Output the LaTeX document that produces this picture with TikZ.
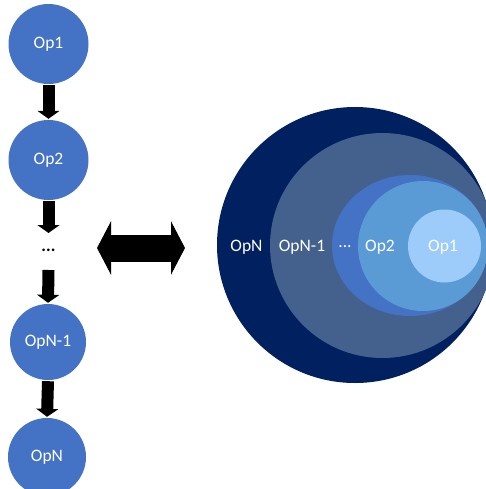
\documentclass[tikz,border=0pt]{standalone}
\usepackage{fontspec}
\setmainfont{Carlito}
\usetikzlibrary{arrows.meta}

\definecolor{opblue}{HTML}{4472C4}
\definecolor{opnavy}{HTML}{002060}
\definecolor{opslate}{HTML}{44618D}
\definecolor{opmid}{HTML}{5B9BD5}
\definecolor{oplight}{HTML}{9DCBFA}

\begin{document}
\begin{tikzpicture}[x=1pt,y=1pt]
			\tikzstyle{every node}+=[inner sep=0pt,text=white,font=\fontsize{17.5}{21}\selectfont]
			\tikzstyle{opnode}=[circle,fill=opblue]
			\tikzstyle{down}=[line width=12pt,-{Triangle[length=8pt,width=22pt]}]
			\useasboundingbox (0,0) rectangle (486,-489);
			\clip (0,0) rectangle (486,-489);
			% chain of operations
			\node [opnode,minimum size=80pt] (op1) at (48.5,-44) {Op1};
			\node [opnode,minimum size=80pt] (op2) at (48.5,-160) {Op2};
			\node [text=black,font=\fontsize{17.5}{21}\bfseries] (dots) at (48.5,-250) {...};
			\node [opnode,minimum size=76pt] (opn1) at (48,-342) {OpN-1};
			\node [opnode,minimum size=78pt] (opn) at (47,-457) {OpN};
			\draw [down] ([yshift=-1pt]op1.south) -- ([yshift=1pt]op2.north);
			\draw [down] ([yshift=-1pt]op2.south) -- (48.5,-233) coordinate (d1);
			\draw [down] (48.5,-270) coordinate (d2) -- ([yshift=1pt]opn1.north);
			\draw [down] ([yshift=-1pt]opn1.south) -- ([yshift=1pt]opn.north);
			% equivalence arrow
			\coordinate (la) at (97,-248);
			\coordinate (ra) at (185,-248);
			\draw [line width=27pt,{Triangle[length=14pt,width=53pt]}-{Triangle[length=14pt,width=53pt]}] (la) -- (ra);
			% nested scopes
			\fill [opnavy] (355,-245) circle (138);
			\fill [opslate] (382.5,-245.5) circle (112.5);
			\fill [opblue] (410,-245.5) ellipse (78 and 70.5);
			\fill [opmid] (423,-246) circle (65);
			\fill [oplight] (444.5,-246) circle (36.5);
			\node (tn) at (246.5,-247) {OpN};
			\node (tn1) at (302,-247) {OpN-1};
			\node (tdots) at (345,-247) {...};
			\node (t2) at (380,-247) {Op2};
			\node (t1) at (443,-247) {Op1};
		\end{tikzpicture}
\end{document}
